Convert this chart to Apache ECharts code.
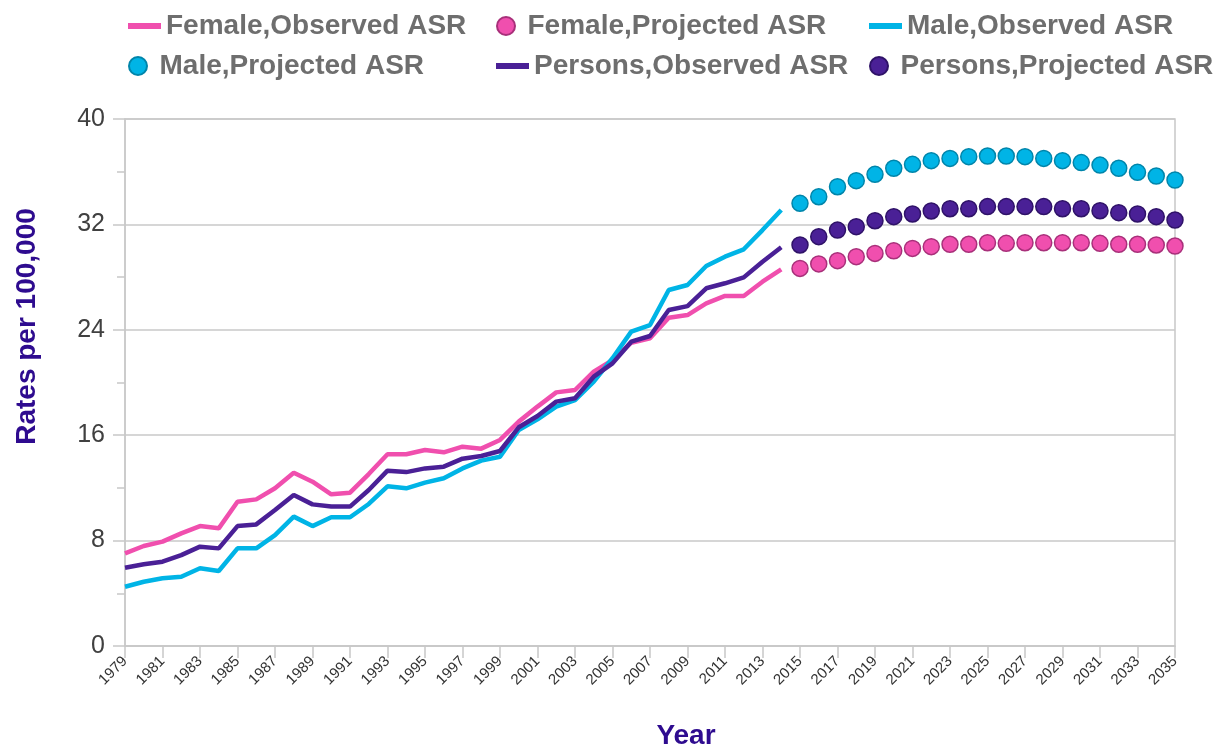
<!DOCTYPE html>
<html>
<head>
<meta charset="utf-8">
<script src="https://cdn.jsdelivr.net/npm/echarts@6/dist/echarts.min.js"></script>
<style>html,body{margin:0;padding:0;background:#fff;}#c{width:1231px;height:748px;}</style>
</head>
<body>
<div id="c"></div>
<script>
const observedYears = [];
for (let y = 1979; y <= 2014; y++) observedYears.push(String(y));
const projectedYears = [];
for (let y = 2015; y <= 2035; y++) projectedYears.push(String(y));
const categories = observedYears.concat(projectedYears);

const femaleObserved = [7.03,7.59,7.92,8.55,9.1,8.93,10.95,11.13,11.97,13.15,12.47,11.51,11.64,13.05,14.55,14.55,14.88,14.7,15.13,14.98,15.64,17.03,18.17,19.25,19.43,20.82,21.7,23.02,23.35,24.92,25.12,26.01,26.57,26.57,27.65,28.59];
const maleObserved = [4.5,4.88,5.14,5.26,5.9,5.69,7.41,7.41,8.42,9.82,9.1,9.77,9.77,10.78,12.12,11.97,12.4,12.73,13.48,14.07,14.37,16.4,17.2,18.17,18.67,20.06,21.84,23.86,24.36,27.02,27.4,28.84,29.55,30.11,31.57,33.1];
const personsObserved = [5.94,6.2,6.4,6.9,7.54,7.41,9.1,9.23,10.32,11.46,10.75,10.58,10.58,11.84,13.31,13.2,13.48,13.61,14.22,14.42,14.8,16.6,17.46,18.55,18.8,20.44,21.45,23.1,23.53,25.5,25.8,27.15,27.53,27.98,29.17,30.26];

const femaleProjected = [28.66,29.0,29.25,29.55,29.8,30.0,30.18,30.31,30.49,30.49,30.61,30.56,30.61,30.61,30.61,30.61,30.56,30.49,30.49,30.44,30.36];
const maleProjected = [33.6,34.1,34.86,35.32,35.8,36.26,36.56,36.84,37.01,37.14,37.19,37.19,37.14,37.01,36.84,36.69,36.5,36.26,35.95,35.67,35.37];
const personsProjected = [30.44,31.07,31.57,31.83,32.28,32.59,32.79,33.02,33.19,33.19,33.35,33.35,33.35,33.35,33.19,33.19,33.04,32.89,32.79,32.59,32.33];

const yTicks = [0, 8, 16, 24, 32, 40];

const C = {
  pink: '#f04fae', pinkBorder: '#a8307a',
  blue: '#00b4e6', blueBorder: '#0085aa',
  purple: '#4a2096', purpleBorder: '#2f1268'
};

function pairs(years, vals) { return years.map((y, i) => [y, vals[i]]); }

function lineSeries(name, years, vals, color) {
  return { name, type: 'line', data: pairs(years, vals), symbol: 'none', showSymbol: false,
    lineStyle: { color, width: 4.5 }, itemStyle: { color }, z: 2 };
}
function dotSeries(name, years, vals, color, border) {
  return { name, type: 'scatter', data: pairs(years, vals), symbol: 'circle', symbolSize: 16,
    itemStyle: { color, borderColor: border, borderWidth: 1.5, opacity: 1 }, z: 3 };
}

const FONT = 'Liberation Sans, Arial, sans-serif';
const legendText = { color: '#6e6e6e', fontSize: 28, fontWeight: 'bold', fontFamily: FONT };
function leg(name, left, top, icon) {
  return { data: [{ name, icon }], left, top, itemWidth: 33, itemHeight: icon === 'rect' ? 6 : 18,
    textStyle: legendText, padding: 0, selectedMode: false };
}

const chart = echarts.init(document.getElementById('c'));
chart.setOption({
  animation: false,
  backgroundColor: '#fff',
  legend: [
    leg('Female,Observed ASR', 128, 12, 'rect'),
    leg('Female,Projected ASR', 496, 12, 'circle'),
    leg('Male,Observed ASR', 869, 12, 'rect'),
    leg('Male,Projected ASR', 128, 52, 'circle'),
    leg('Persons,Observed ASR', 496, 52, 'rect'),
    leg('Persons,Projected ASR', 869, 52, 'circle')
  ],
  grid: { left: 125, right: 56, top: 119, bottom: 102, show: true, borderColor: '#c8c8c8', borderWidth: 1.5,
    containLabel: false, outerBoundsMode: 'none' },
  xAxis: {
    type: 'category', data: categories, boundaryGap: false,
    name: 'Year', nameLocation: 'middle', nameGap: 76,
    nameTextStyle: { color: '#2e0b8f', fontSize: 28, fontWeight: 'bold', fontFamily: FONT, padding: [0, 0, 0, 72] },
    axisLine: { lineStyle: { color: '#c8c8c8', width: 1.5 } },
    axisTick: { show: true, interval: 1, length: 12, lineStyle: { color: '#c8c8c8', width: 1.5 } },
    axisLabel: { interval: 1, rotate: 45, fontSize: 15, color: '#333333', margin: 13, fontFamily: FONT },
    splitLine: { show: false }
  },
  yAxis: {
    type: 'value', min: yTicks[0], max: yTicks[yTicks.length - 1], interval: 8,
    name: 'Rates per 100,000', nameLocation: 'middle', nameGap: 84, nameRotate: 90,
    nameTextStyle: { color: '#2e0b8f', fontSize: 28, fontWeight: 'bold', fontFamily: FONT, padding: [0, 0, 0, 112] },
    axisLine: { show: true, lineStyle: { color: '#c8c8c8', width: 1.5 } },
    axisTick: { show: true, length: 12, lineStyle: { color: '#c8c8c8', width: 1.5 } },
    minorTick: { show: true, splitNumber: 2, length: 8, lineStyle: { color: '#c8c8c8', width: 1.5 } },
    minorSplitLine: { show: false },
    axisLabel: { fontSize: 25, color: '#404040', margin: 20, fontFamily: FONT },
    splitLine: { show: true, lineStyle: { color: '#c8c8c8', width: 1.5 } }
  },
  series: [
    lineSeries('Female,Observed ASR', observedYears, femaleObserved, C.pink),
    dotSeries('Female,Projected ASR', projectedYears, femaleProjected, C.pink, C.pinkBorder),
    lineSeries('Male,Observed ASR', observedYears, maleObserved, C.blue),
    dotSeries('Male,Projected ASR', projectedYears, maleProjected, C.blue, C.blueBorder),
    lineSeries('Persons,Observed ASR', observedYears, personsObserved, C.purple),
    dotSeries('Persons,Projected ASR', projectedYears, personsProjected, C.purple, C.purpleBorder)
  ]
});
</script>
</body>
</html>
